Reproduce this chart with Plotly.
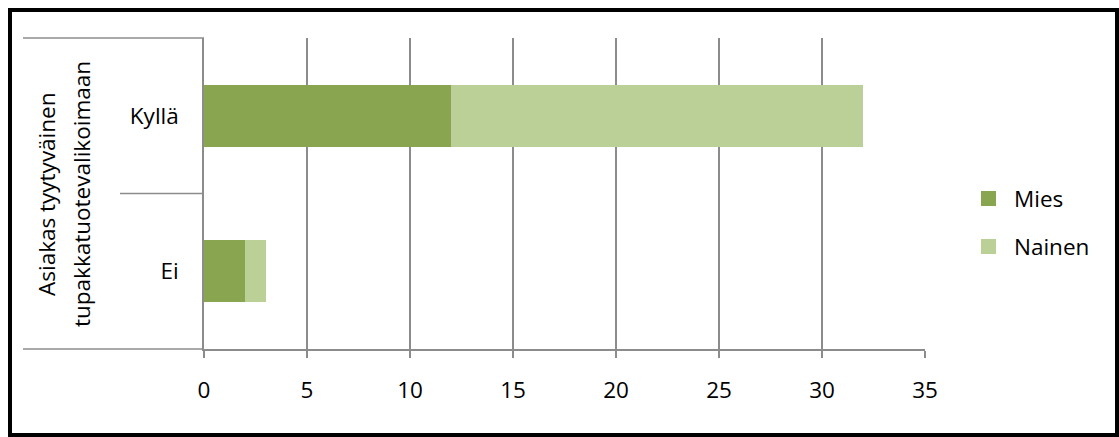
import plotly.graph_objects as go

# Survey answers: is the customer satisfied with the tobacco product range
categories = ["Ei", "Kyllä"]
series_names = ["Mies", "Nainen"]
mies = [2, 12]
nainen = [1, 20]
x_ticks = [0, 5, 10, 15, 20, 25, 30, 35]
group_label = ["Asiakas tyytyväinen", "tupakkatuotevalikoimaan"]
colors = ["#8aa54f", "#bad097"]

W, H = 1119, 437
L, R, T, B = 204, 925, 38, 349  # plot area in pixels


def px(x):
    return (x - L) / (R - L)


def py(y):
    return (B - y) / (B - T)


FONT = "Open Sans"
FS = 22.5
fig = go.Figure()
for name, vals, col in zip(series_names, [mies, nainen], colors):
    fig.add_trace(go.Bar(y=categories, x=vals, orientation="h", name=name,
                         marker=dict(color=col, line=dict(width=0)),
                         showlegend=False))

grid = "#8c8c8c"
shapes = [
    # outer frame
    dict(type="rect", xref="paper", yref="paper", x0=px(10), x1=px(1117),
         y0=py(435), y1=py(10), line=dict(color="black", width=4)),
    # category axis lines
    dict(type="line", xref="paper", yref="paper", x0=px(23), x1=px(204),
         y0=py(38), y1=py(38), line=dict(color=grid, width=1.5)),
    dict(type="line", xref="paper", yref="y", x0=px(120), x1=px(204),
         y0=0.5, y1=0.5, line=dict(color=grid, width=1.5)),
    dict(type="line", xref="paper", yref="paper", x0=px(23), x1=px(204),
         y0=0, y1=0, line=dict(color=grid, width=1.5)),
]

annotations = [
    dict(text=group_label[0], xref="paper", yref="paper", x=px(46), y=py(194),
         xanchor="center", yanchor="middle", textangle=-90, showarrow=False,
         font=dict(family=FONT, size=FS, color="black")),
    dict(text=group_label[1], xref="paper", yref="paper", x=px(81), y=py(194),
         xanchor="center", yanchor="middle", textangle=-90, showarrow=False,
         font=dict(family=FONT, size=FS, color="black")),
]

# legend: colour swatch plus series name
for i, (name, col) in enumerate(zip(series_names, colors)):
    cy = 198.5 + i * 48
    shapes.append(dict(type="rect", xref="paper", yref="paper",
                       x0=px(981), x1=px(996), y0=py(cy + 7.5), y1=py(cy - 7.5),
                       fillcolor=col, line=dict(width=0)))
    annotations.append(dict(text=name, xref="paper", yref="paper", x=px(1012),
                            y=py(cy), xanchor="left", yanchor="middle",
                            showarrow=False,
                            font=dict(family=FONT, size=FS, color="black")))

fig.update_layout(
    width=W, height=H,
    margin=dict(l=L, r=W - R, t=T, b=H - B),
    barmode="stack", bargap=0.6,
    plot_bgcolor="white", paper_bgcolor="white",
    font=dict(family=FONT, size=FS, color="black"),
    shapes=shapes, annotations=annotations,
    showlegend=False,
    xaxis=dict(range=[0, 35], tickvals=x_ticks, showgrid=True, gridcolor=grid,
               gridwidth=1.5, showline=True, linecolor=grid, linewidth=1.5,
               ticks="outside", ticklen=7, tickcolor=grid, tickwidth=1.5,
               ticklabelstandoff=13, zeroline=False),
    yaxis=dict(categoryorder="array", categoryarray=categories, showgrid=False,
               showline=True, linecolor=grid, linewidth=1.5, ticks="",
               ticklabelstandoff=19, zeroline=False),
)

fig.write_html("out.html")
